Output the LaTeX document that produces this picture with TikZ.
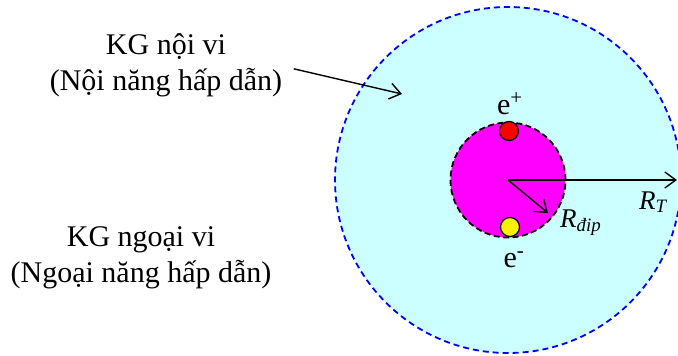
\documentclass[tikz,border=0pt]{standalone}
\usepackage{fontspec}
\setmainfont{Liberation Serif}
\usetikzlibrary{arrows.meta}
\definecolor{skycyan}{HTML}{CCFFFF}
\definecolor{coremag}{HTML}{FF00FF}

\begin{document}
\begin{tikzpicture}[x=1pt, y=-1pt,
  label text/.style={font=\fontsize{30}{36}\selectfont, align=center, anchor=base},
  charge text/.style={font=\fontsize{30}{36}\selectfont, anchor=base, inner sep=0},
  radius text/.style={font=\fontsize{27}{32}\itshape, anchor=base west, inner sep=0},
  arr/.style={line width=1.4pt, -{Straight Barb[length=11pt,width=16pt,line width=1.4pt]}},
  dot/.style={circle, draw=black, line width=1.2pt, minimum size=19pt, inner sep=0}]
\useasboundingbox (0,0) rectangle (678,356);
\node[circle, draw=blue, fill=skycyan, line width=1.8pt, dash pattern=on 6pt off 4pt,
  minimum size=346pt, inner sep=0] (outer) at (508,180) {};
\node[circle, draw=black, fill=coremag, line width=1.8pt, dash pattern=on 6pt off 3.5pt,
  minimum size=115pt, inner sep=0] (core) at (508,180) {};
\node[dot, fill=red] (pos) at (509,131) {};
\node[dot, fill=yellow] (neg) at (510,227) {};
\node[charge text] (eplus) at (510,114) {e\textsuperscript{+}};
\node[charge text] (eminus) at (514,267) {e\textsuperscript{-}};
\node[label text] (inner) at (166,90) {KG nội vi\\(Nội năng hấp dẫn)};
\node[label text] (outerlbl) at (141,282) {KG ngoại vi\\(Ngoại năng hấp dẫn)};
% radii
\coordinate (rtend) at (677,180);
\coordinate (rdend) at (548,213);
\coordinate (tip) at (402,94);
\draw[arr] (core.center) -- (rtend);
\draw[arr] (core.center) -- (rdend);
\draw[arr] ([xshift=8pt,yshift=-4pt]inner.east) -- (tip);
\node[radius text] (rt) at (639,209) {R\textsubscript{T}};
\node[radius text] (rd) at (560,227) {R\textsubscript{đip}};
\end{tikzpicture}
\end{document}
